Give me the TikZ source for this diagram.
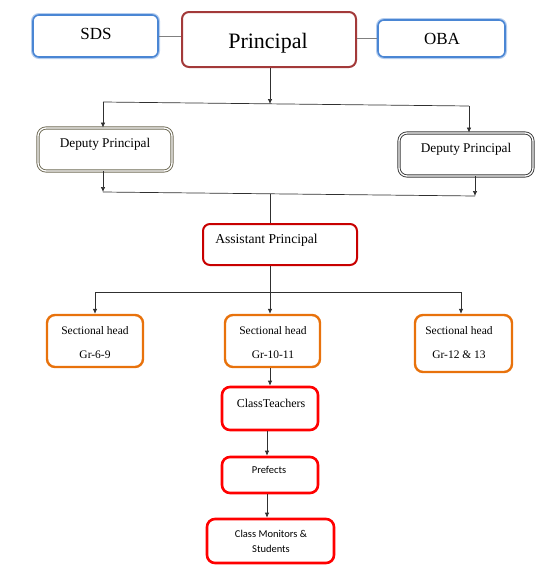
\documentclass[tikz,border=0pt]{standalone}
\usepackage{fontspec}
\setmainfont{Liberation Serif}
\newfontfamily\carl{Carlito}
\usetikzlibrary{arrows.meta}
\definecolor{bluemain}{HTML}{4A86D4}
\definecolor{bluelight}{HTML}{B5CDEE}
\definecolor{prred}{HTML}{A33A3A}
\definecolor{apred}{HTML}{C80000}
\definecolor{orng}{HTML}{E8720C}
\definecolor{brred}{HTML}{FF0000}
\definecolor{olivegray}{HTML}{6E6A55}
\definecolor{darkgray2}{HTML}{3A3A3A}
\definecolor{conn}{HTML}{303030}
\tikzset{
  box/.style={rectangle, rounded corners=6pt, fill=white, inner sep=0pt},
  bluebox/.style={box, draw=bluemain, line width=1.6pt, preaction={draw=bluelight, line width=4pt}},
  prbox/.style={box, draw=prred, line width=2pt, rounded corners=7pt},
  dpbox/.style={box, draw=#1, line width=0.9pt, double=white, double distance=1.3pt, rounded corners=8pt},
  apbox/.style={box, draw=apred, line width=2pt, rounded corners=7pt},
  shbox/.style={box, draw=orng, line width=2.4pt, rounded corners=8pt},
  clbox/.style={box, draw=brred, line width=2.6pt, rounded corners=8pt},
  txt/.style={inner sep=0pt, align=center, text=black},
  link/.style={draw=conn, line width=0.7pt},
  arr/.style={link, -{Latex[length=5pt,width=4.5pt]}},
}
\begin{document}
\begin{tikzpicture}[x=1pt,y=-1pt]
\useasboundingbox (0,0) rectangle (545,571);
% boxes
\node[bluebox, minimum width=125pt, minimum height=42pt] (sds) at (95.5,36) {};
\node[prbox, minimum width=174pt, minimum height=55pt] (pr) at (269,39.5) {};
\node[bluebox, minimum width=127pt, minimum height=37pt] (oba) at (441.5,38.5) {};
\node[dpbox=olivegray, minimum width=134pt, minimum height=43pt] (dp1) at (105,149.5) {};
\node[dpbox=darkgray2, minimum width=134pt, minimum height=43pt] (dp2) at (466,154.5) {};
\node[apbox, minimum width=154pt, minimum height=41pt] (ap) at (280,244.5) {};
\node[shbox, minimum width=96pt, minimum height=52pt] (sh1) at (95,341) {};
\node[shbox, minimum width=95pt, minimum height=52pt] (sh2) at (272.5,341) {};
\node[shbox, minimum width=97pt, minimum height=57pt] (sh3) at (463.5,343.5) {};
\node[clbox, minimum width=96pt, minimum height=43pt] (ct) at (270,408.5) {};
\node[clbox, minimum width=96pt, minimum height=36pt] (pf) at (270,475) {};
\node[clbox, minimum width=127pt, minimum height=44pt] (cm) at (270.5,541) {};
% texts
\node[txt, font=\fontsize{17}{20}\selectfont] (tsds) at (96,34) {SDS};
\node[txt, font=\fontsize{22}{26}\selectfont] (tpr) at (268,43) {Principal};
\node[txt, font=\fontsize{17}{20}\selectfont] (toba) at (442,39) {OBA};
\node[txt, font=\fontsize{13.3}{16}\selectfont] (tdp1) at (105,144) {Deputy Principal};
\node[txt, font=\fontsize{13.3}{16}\selectfont] (tdp2) at (466,149) {Deputy Principal};
\node[txt, font=\fontsize{13.6}{16}\selectfont] (tap) at (266.5,240) {Assistant Principal};
\node[txt, font=\fontsize{11.5}{24}\selectfont] (tsh1) at (95,343) {Sectional head\\Gr-6-9};
\node[txt, font=\fontsize{11.5}{24}\selectfont] (tsh2) at (273,343) {Sectional head\\Gr-10-11};
\node[txt, font=\fontsize{11.5}{24}\selectfont] (tsh3) at (459,343) {Sectional head\\Gr-12 \& 13};
\node[txt, font=\fontsize{12}{14}\selectfont] (tct) at (271,403) {ClassTeachers};
\node[txt, font=\carl\fontsize{10.5}{13}\selectfont] (tpf) at (269,470) {Prefects};
\node[txt, font=\carl\fontsize{10.5}{15}\selectfont] (tcm) at (271,541.5) {Class Monitors \&\\Students};
% junction coordinates
\coordinate (hl) at (103,102);
\coordinate (hr) at (469,106);
\coordinate (j1) at (270,104);
\coordinate (ll) at (103,192);
\coordinate (lr) at (475,196);
\coordinate (j2) at (270,193.5);
\coordinate (sl) at (95,292);
\coordinate (sr) at (461,292);
\coordinate (j3) at (270,292);
% connectors
\draw[link, draw=gray] (sds.east) -- (sds.east -| pr.west);
\draw[link, draw=gray] (pr.east |- oba.west) -- (oba.west);
\draw[arr] (pr.south -| j1) -- (j1);
\draw[link] (hl) -- (hr);
\draw[arr] (hl) -- (hl |- dp1.north);
\draw[arr] (hr) -- (hr |- dp2.north);
\draw[arr] (dp1.south -| ll) -- (ll);
\draw[arr] (dp2.south -| lr) -- (lr);
\draw[link] (ll) -- (lr);
\draw[link] (j2) -- (j2 |- ap.north);
\draw[link] (ap.south -| j3) -- (j3);
\draw[link] (sl) -- (sr);
\draw[arr] (sl) -- (sl |- sh1.north);
\draw[arr] (j3) -- (j3 |- sh2.north);
\draw[arr] (sr) -- (sr |- sh3.north);
\draw[arr] (sh2.south -| j3) -- (j3 |- ct.north);
\draw[arr] ([xshift=-3pt]ct.south) -- ([xshift=-3pt]pf.north);
\draw[arr] ([xshift=-3pt]pf.south) -- ([xshift=-3.5pt]cm.north);
\end{tikzpicture}
\end{document}
